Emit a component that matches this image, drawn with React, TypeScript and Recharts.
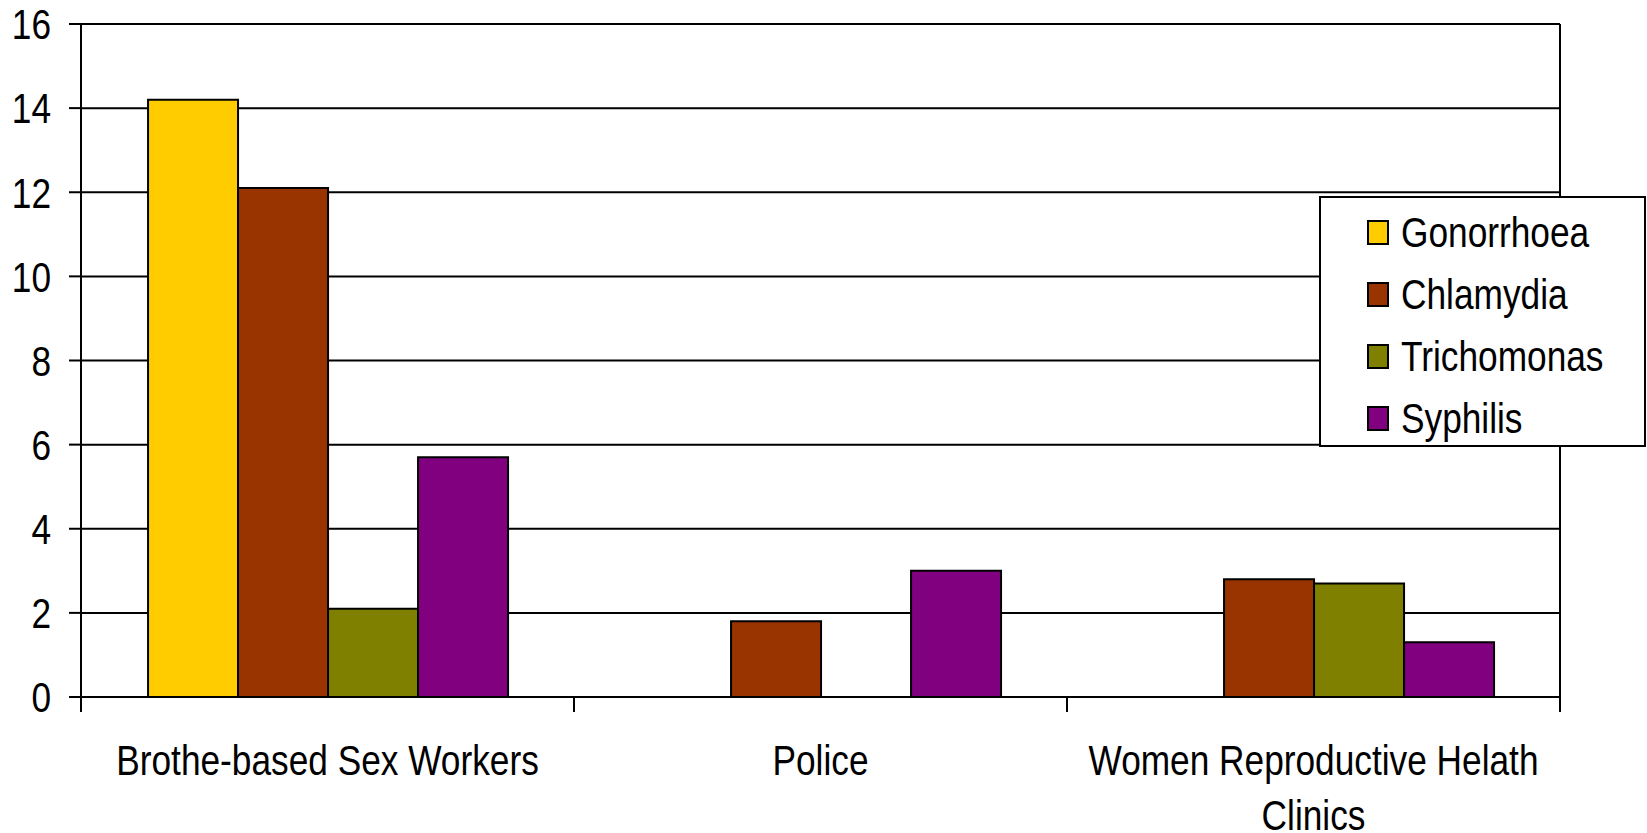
import { BarChart, Bar, XAxis, YAxis, CartesianGrid, Legend } from 'recharts';

const categories = ['Brothe-based Sex Workers', 'Police', 'Women Reproductive Helath Clinics'];
const gonorrhoea = [14.2, 0, 0];
const chlamydia = [12.1, 1.8, 2.8];
const trichomonas = [2.1, 0, 2.7];
const syphilis = [5.7, 3.0, 1.3];
const yTicks = [0, 2, 4, 6, 8, 10, 12, 14, 16];

const series = [
  { name: 'Gonorrhoea', values: gonorrhoea, color: '#FFCC00' },
  { name: 'Chlamydia', values: chlamydia, color: '#993300' },
  { name: 'Trichomonas', values: trichomonas, color: '#808000' },
  { name: 'Syphilis', values: syphilis, color: '#800080' },
];

const data = categories.map((name, i) => {
  const row: Record<string, string | number> = { name };
  series.forEach((s) => { row[s.name] = s.values[i]; });
  return row;
});

const W = 1647;
const H = 833;
const TOP = 24;
const LEFT = 81;
const RIGHT = 87;
const XAXIS_H = 136;
const PLOT_H = H - TOP - XAXIS_H;
const BAND = (W - LEFT - RIGHT) / categories.length;
// no Arial Narrow here, so squeeze Liberation Sans horizontally
const FONT_FAMILY = '"Liberation Sans", Arial, sans-serif';
const FONT_SIZE = 43;
const NARROW = 0.82;

let measureCtx: CanvasRenderingContext2D | null = null;
function textWidth(s: string) {
  if (!measureCtx) {
    measureCtx = document.createElement('canvas').getContext('2d');
  }
  if (!measureCtx) return s.length * FONT_SIZE * 0.5;
  measureCtx.font = `${FONT_SIZE}px ${FONT_FAMILY}`;
  return measureCtx.measureText(s).width * NARROW;
}

function wrapLabel(label: string, maxWidth: number) {
  const words = label.split(' ');
  const lines: string[] = [];
  let cur = '';
  words.forEach((w) => {
    const next = cur ? cur + ' ' + w : w;
    if (cur && textWidth(next) > maxWidth) {
      lines.push(cur);
      cur = w;
    } else {
      cur = next;
    }
  });
  if (cur) lines.push(cur);
  return lines;
}

function CategoryTick({ x, y, payload, index }: any) {
  const half = BAND / 2;
  const lines = wrapLabel(String(payload.value), BAND - 20);
  return (
    <g>
      {index === 0 && (
        <line x1={x - half} x2={x - half} y1={y} y2={y + 15} stroke="#000" strokeWidth={2} />
      )}
      <line x1={x + half} x2={x + half} y1={y} y2={y + 15} stroke="#000" strokeWidth={2} />
      {index === categories.length - 1 && (
        <line x1={x + half} x2={x + half} y1={y - PLOT_H} y2={y} stroke="#000" strokeWidth={2} />
      )}
      {lines.map((line, i) => (
        <g key={i} transform={`translate(${x},${y + 78 + i * 55}) scale(${NARROW},1)`}>
          <text x={0} y={0} textAnchor="middle" fill="#000" fontSize={FONT_SIZE} fontFamily={FONT_FAMILY}>
            {line}
          </text>
        </g>
      ))}
    </g>
  );
}

function ValueTick({ x, y, payload }: any) {
  return (
    <g transform={`translate(${x},${y}) scale(${NARROW},1)`}>
      <text
        x={0}
        y={0}
        dy="0.355em"
        textAnchor="end"
        fill="#000"
        fontSize={FONT_SIZE}
        fontFamily={FONT_FAMILY}
      >
        {payload.value}
      </text>
    </g>
  );
}

function LegendBox() {
  return (
    <div
      style={{
        boxSizing: 'border-box',
        width: 327,
        height: 251,
        border: '2px solid #000',
        background: '#fff',
        paddingTop: 3,
        paddingLeft: 46,
        fontFamily: FONT_FAMILY,
        fontSize: FONT_SIZE,
        color: '#000',
        textAlign: 'left',
      }}
    >
      {series.map((s) => (
        <div key={s.name} style={{ height: 62, display: 'flex', alignItems: 'center', whiteSpace: 'nowrap' }}>
          <span
            style={{
              display: 'inline-block',
              boxSizing: 'border-box',
              width: 22,
              height: 25,
              background: s.color,
              border: '2px solid #000',
              marginRight: 12,
              flex: 'none',
            }}
          />
          <span style={{ display: 'inline-block', transform: `scaleX(${NARROW})`, transformOrigin: 'left center' }}>
            {s.name}
          </span>
        </div>
      ))}
    </div>
  );
}

export default function App() {
  return (
    <div style={{ position: 'absolute', left: 0, top: 0, width: W, height: H, background: '#fff' }}>
      <BarChart
        width={W}
        height={H}
        data={data}
        margin={{ top: TOP, right: RIGHT, bottom: 0, left: 0 }}
        barCategoryGap="13.6%"
        barGap={0}
      >
        <CartesianGrid vertical={false} stroke="#000" strokeWidth={2} />
        <XAxis
          dataKey="name"
          height={XAXIS_H}
          tickLine={false}
          tickSize={0}
          tickMargin={0}
          axisLine={{ stroke: '#000', strokeWidth: 2 }}
          tick={<CategoryTick />}
          interval={0}
        />
        <YAxis
          width={LEFT}
          domain={[0, 16]}
          ticks={yTicks}
          tickSize={12}
          tickMargin={18}
          axisLine={{ stroke: '#000', strokeWidth: 2 }}
          tickLine={{ stroke: '#000', strokeWidth: 2 }}
          tick={<ValueTick />}
        />
        <Legend
          layout="horizontal"
          verticalAlign="middle"
          align="center"
          content={<LegendBox />}
          wrapperStyle={{ left: 1319, top: 196, width: 327, height: 251, right: 'auto', bottom: 'auto' }}
        />
        {series.map((s) => (
          <Bar
            key={s.name}
            dataKey={s.name}
            fill={s.color}
            stroke="#000"
            strokeWidth={2}
            isAnimationActive={false}
          />
        ))}
      </BarChart>
    </div>
  );
}
